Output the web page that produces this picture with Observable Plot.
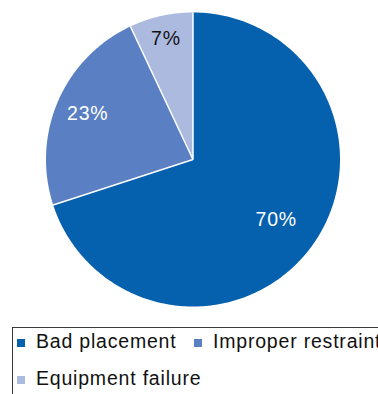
<!DOCTYPE html>
<html>
<head>
<meta charset="utf-8">
<script src="https://cdn.jsdelivr.net/npm/d3@7"></script>
<script src="https://cdn.jsdelivr.net/npm/@observablehq/plot@0.6"></script>
<style>
  html, body { margin: 0; padding: 0; background: #fff; }
  #wrap { position: relative; width: 378px; height: 394px; overflow: hidden; font-family: "Liberation Sans", Arial, Helvetica, sans-serif; }
  #legend { position: absolute; left: 12px; top: 327px; width: 420px; height: 90px; border: 1px solid #3a3a3a; box-sizing: border-box; }
  .item { position: absolute; font-size: 19.5px; letter-spacing: 0.8px; color: #111; white-space: nowrap; line-height: 1; }
  .sw { position: absolute; width: 8px; height: 8px; }
  #chart text { letter-spacing: 0.8px; }
</style>
</head>
<body>
<div id="wrap">
  <div id="chart"></div>
  <div id="legend"></div>
</div>
<script>
const categories = ["Bad placement", "Improper restraint", "Equipment failure"];
const values = [70, 23, 7];
const labels = ["70%", "23%", "7%"];
const colors = ["#0560ae", "#5a80c3", "#adbae0"];

// Build slice polygons from the values (angles clockwise from 12 o'clock)
const total = d3.sum(values);
let acc = 0;
const slices = values.map((v, i) => {
  const a0 = acc / total * 2 * Math.PI;
  acc += v;
  const a1 = acc / total * 2 * Math.PI;
  return {cat: categories[i], a0, a1, label: labels[i], i};
});
const polyRows = [];
for (const s of slices) {
  polyRows.push({cat: s.cat, x: 0, y: 0});
  const n = Math.max(2, Math.ceil((s.a1 - s.a0) / (Math.PI / 180)));
  for (let k = 0; k <= n; k++) {
    const a = s.a0 + (s.a1 - s.a0) * k / n;
    polyRows.push({cat: s.cat, x: Math.sin(a), y: Math.cos(a)});
  }
  polyRows.push({cat: s.cat, x: 0, y: 0});
}
const edges = slices.map(s => ({x1: 0, y1: 0, x2: Math.sin(s.a0), y2: Math.cos(s.a0)}));
const labelRadius = [0.70, 0.78, 0.845];
const labelRows = slices.map(s => {
  const m = (s.a0 + s.a1) / 2;
  const r = labelRadius[s.i];
  return {x: r * Math.sin(m), y: r * Math.cos(m), text: s.label, dark: s.i === 2};
});

const plot = Plot.plot({
  width: 378,
  height: 320,
  marginLeft: 45.5,
  marginRight: 38.5,
  marginTop: 12,
  marginBottom: 14,
  x: {domain: [-1, 1], axis: null},
  y: {domain: [-1, 1], axis: null},
  color: {domain: categories, range: colors},
  style: {fontFamily: "'Liberation Sans', Arial, Helvetica, sans-serif", background: "white"},
  marks: [
    Plot.line(polyRows, {x: "x", y: "y", z: "cat", fill: "cat", stroke: "none", curve: "linear"}),
    Plot.link(edges, {x1: "x1", y1: "y1", x2: "x2", y2: "y2", stroke: "white", strokeWidth: 1.5}),
    Plot.text(labelRows.filter(d => !d.dark), {x: "x", y: "y", text: "text", fill: "white", fontSize: 19.5}),
    Plot.text(labelRows.filter(d => d.dark), {x: "x", y: "y", text: "text", fill: "#111", fontSize: 19.5})
  ]
});
document.getElementById("chart").appendChild(plot);

// Legend built from the same categories and the plot's color scale
const color = plot.scale("color");
const legend = document.getElementById("legend");
const itemPos = [[4, 11], [181, 11], [4, 48]];
categories.forEach((c, i) => {
  const sw = document.createElement("div");
  sw.className = "sw";
  sw.style.left = itemPos[i][0] + "px";
  sw.style.top = itemPos[i][1] + "px";
  sw.style.background = color.range[i];
  legend.appendChild(sw);
  const t = document.createElement("div");
  t.className = "item";
  t.style.left = (itemPos[i][0] + 19) + "px";
  t.style.top = (itemPos[i][1] - 7) + "px";
  t.textContent = c;
  legend.appendChild(t);
});
</script>
</body>
</html>
